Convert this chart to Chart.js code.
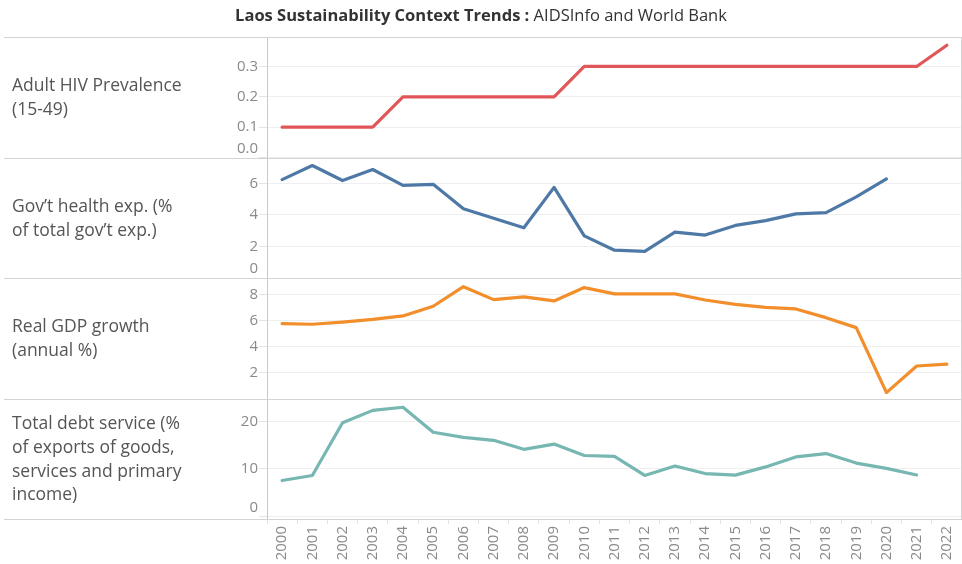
<!DOCTYPE html>
<html>
<head>
<meta charset="utf-8">
<script src="https://cdn.jsdelivr.net/npm/chart.js@4"></script>
<style>
  body { margin: 0; background: #fff; }
  #wrap { position: relative; width: 962px; height: 564px; }
  #title {
    position: absolute; left: 0; top: 3px; width: 962px; text-align: center;
    font-family: "Open Sans", sans-serif; font-size: 16.5px; color: #333;
  }
</style>
</head>
<body>
<div id="wrap">
  <div id="title"><b>Laos Sustainability Context Trends :</b> AIDSInfo and World Bank</div>
  <canvas id="chart" width="962" height="564"></canvas>
</div>
<script>
const years = ['2000', '2001', '2002', '2003', '2004', '2005', '2006', '2007', '2008', '2009', '2010',
    '2011', '2012', '2013', '2014', '2015', '2016', '2017', '2018', '2019', '2020', '2021', '2022'];

const hivPrevalence = [0.1, 0.1, 0.1, 0.1, 0.2, 0.2, 0.2, 0.2, 0.2, 0.2, 0.3, 0.3, 0.3, 0.3, 0.3, 0.3,
    0.3, 0.3, 0.3, 0.3, 0.3, 0.3, 0.37];
const govHealthExp = [6.23, 7.12, 6.17, 6.87, 5.87, 5.93, 4.38, 3.78, 3.18, 5.74, 2.67, 1.76, 1.69,
    2.90, 2.72, 3.33, 3.63, 4.06, 4.14, 5.14, 6.27, null, null];
const gdpGrowth = [5.78, 5.73, 5.9, 6.1, 6.37, 7.12, 8.63, 7.63, 7.84, 7.53, 8.56, 8.07, 8.07, 8.07,
    7.6, 7.27, 7.04, 6.91, 6.24, 5.47, 0.45, 2.51, 2.66];
const debtService = [7.53, 8.58, 19.7, 22.3, 22.96, 17.7, 16.6, 16.0, 14.1, 15.2, 12.8, 12.6, 8.6,
    10.6, 9.0, 8.67, 10.4, 12.5, 13.2, 11.2, 10.1, 8.7, null];

const hivTicks = [0, 0.1, 0.2, 0.3];
const govTicks = [0, 2, 4, 6];
const gdpTicks = [2, 4, 6, 8];
const debtTicks = [0, 10, 20];

const rowLabels = [
    ['Adult HIV Prevalence', '(15-49)'],
    ['Gov\u2019t health exp. (%', 'of total gov\u2019t exp.)'],
    ['Real GDP growth', '(annual %)'],
    ['Total debt service (%', 'of exports of goods,', 'services and primary', 'income)']
];

const tickColor = '#8a8a8a';
const lineColor = '#d4d4d4';
const gridColor = '#efefef';

function rowAxis(weight, min, max, tickValues, decimals) {
    return {
        type: 'linear',
        position: 'left',
        stack: 'rows',
        stackWeight: 1,
        weight: weight,
        min: min,
        max: max,
        afterBuildTicks: function(scale) {
            scale.ticks = tickValues.map(v => ({ value: v }));
        },
        afterFit: function(scale) {
            scale.width = 267;
        },
        border: { display: true, color: '#c8c8c8' },
        grid: { color: gridColor, tickLength: 8, tickColor: '#e4e4e4' },
        ticks: {
            autoSkip: false,
            padding: 1,
            color: tickColor,
            font: { family: 'Open Sans', size: 15 },
            callback: function(value) {
                const text = value.toFixed(decimals);
                // lift the bottom label above the row separator
                return value === tickValues[0] && value <= min + 0.6 ? [text, ''] : text;
            }
        }
    };
}

const separators = {
    id: 'separators',
    afterDraw(chart) {
        const ctx = chart.ctx;
        const area = chart.chartArea;
        const axes = ['y1', 'y2', 'y3', 'y4'].map(id => chart.scales[id]);
        ctx.save();
        ctx.strokeStyle = lineColor;
        ctx.lineWidth = 1;
        const ys = [axes[0].top];
        axes.forEach(a => ys.push(a.bottom));
        ys.forEach(y => {
            const yy = Math.round(y) + 0.5;
            ctx.beginPath();
            ctx.moveTo(4, yy);
            ctx.lineTo(area.right, yy);
            ctx.stroke();
        });
        ctx.beginPath();
        ctx.moveTo(Math.round(area.right) - 0.5, area.top);
        ctx.lineTo(Math.round(area.right) - 0.5, area.bottom);
        ctx.stroke();

        ctx.fillStyle = '#555';
        ctx.font = '17.5px "Open Sans"';
        ctx.textBaseline = 'middle';
        ctx.textAlign = 'left';
        const lh = 23.7;
        axes.forEach((a, i) => {
            const lines = rowLabels[i];
            const mid = (a.top + a.bottom) / 2 + 1;
            lines.forEach((t, j) => {
                ctx.fillText(t, 12, mid + (j - (lines.length - 1) / 2) * lh);
            });
        });
        ctx.restore();
    }
};

function lineSet(label, data, color, axis) {
    return {
        label: label,
        data: data,
        yAxisID: axis,
        borderColor: color,
        backgroundColor: color,
        borderWidth: 3.2,
        pointRadius: 0,
        tension: 0,
        borderCapStyle: 'round',
        borderJoinStyle: 'round'
    };
}

new Chart(document.getElementById('chart'), {
    type: 'line',
    data: {
        labels: years,
        datasets: [
            lineSet('Adult HIV Prevalence (15-49)', hivPrevalence, '#e15759', 'y1'),
            lineSet('Gov\u2019t health exp. (% of total gov\u2019t exp.)', govHealthExp, '#4e79a7', 'y2'),
            lineSet('Real GDP growth (annual %)', gdpGrowth, '#f28e2b', 'y3'),
            lineSet('Total debt service (% of exports of goods, services and primary income)', debtService, '#76b7b2', 'y4')
        ]
    },
    options: {
        responsive: false,
        animation: false,
        layout: { padding: { top: 37, left: 0, right: -2, bottom: 0 } },
        plugins: {
            legend: { display: false },
            title: { display: false },
            tooltip: { enabled: false }
        },
        scales: {
            x: {
                type: 'category',
                offset: true,
                afterFit: function(scale) {
                    scale.height = 45;
                    scale.paddingRight = 0;
                },
                border: { display: false },
                grid: { offset: true, drawOnChartArea: false, tickLength: 5, color: '#e4e4e4' },
                ticks: {
                    autoSkip: false,
                    minRotation: 90,
                    maxRotation: 90,
                    padding: 2,
                    color: tickColor,
                    font: { family: 'Open Sans', size: 15 }
                }
            },
            y1: rowAxis(4, 0, 0.397, hivTicks, 1),
            y2: rowAxis(3, 0, 7.63, govTicks, 0),
            y3: rowAxis(2, 0, 9.3, gdpTicks, 0),
            y4: rowAxis(1, -0.57, 24.8, debtTicks, 0)
        }
    },
    plugins: [separators]
});
</script>
</body>
</html>
